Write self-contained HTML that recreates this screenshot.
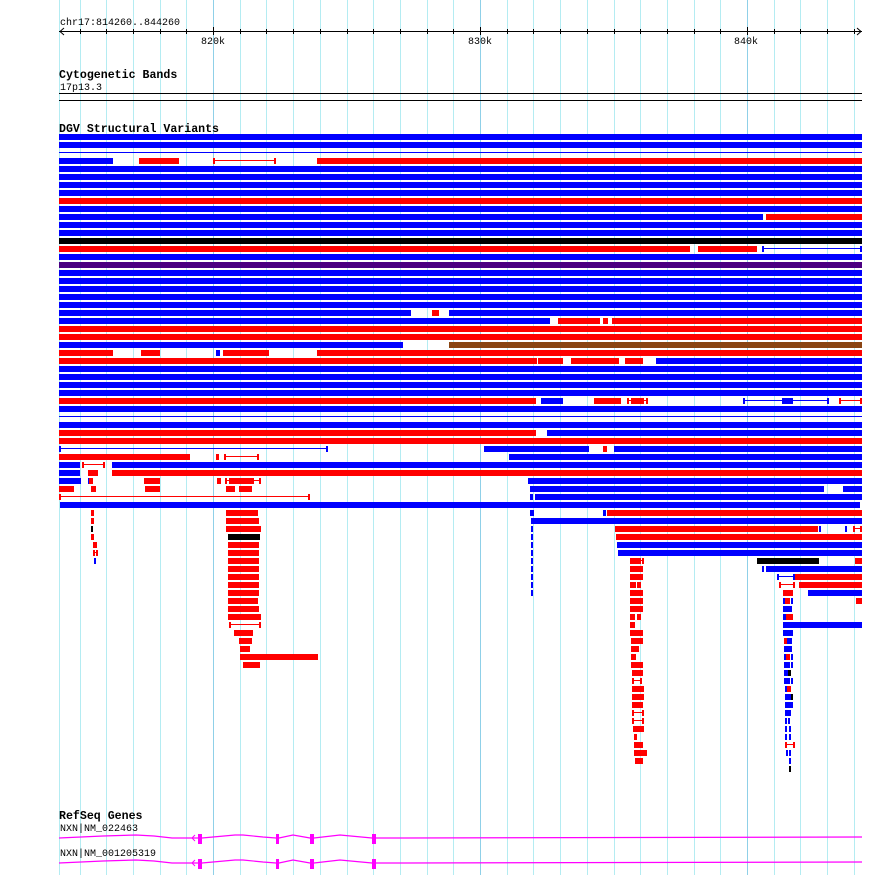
<!DOCTYPE html>
<html><head><meta charset="utf-8"><style>
html,body{margin:0;padding:0;background:#fff;}
svg{display:block;}
text{font-family:"Liberation Mono",monospace;font-size:10px;fill:#000;}
.b{font-weight:bold;font-size:11.6px;}
</style></head><body>
<svg id="s" width="890" height="875" xmlns="http://www.w3.org/2000/svg" shape-rendering="crispEdges">
<g id="grid"></g>
<text x="60" y="25">chr17:814260..844260</text>
<line x1="59" y1="31.5" x2="862" y2="31.5" stroke="#000"/>
<polyline points="64,28 60,31.5 64,35" fill="none" stroke="#000" shape-rendering="auto"/>
<polyline points="857,28 861,31.5 857,35" fill="none" stroke="#000" shape-rendering="auto"/>
<g id="ticks"></g>
<text x="201" y="44">820k</text>
<text x="468" y="44">830k</text>
<text x="734" y="44">840k</text>
<text class="b" x="59" y="78">Cytogenetic Bands</text>
<text x="60" y="90">17p13.3</text>
<rect x="59" y="93" width="803" height="1" fill="#000"/>
<rect x="59" y="100" width="803" height="1" fill="#000"/>
<text class="b" x="59" y="132">DGV Structural Variants</text>
<g id="bars"></g>
<text class="b" x="59" y="819">RefSeq Genes</text>
<text x="60" y="831">NXN|NM_022463</text>
<text x="60" y="856">NXN|NM_001205319</text>
<g id="genes"></g>
</svg>
<script>
var NS="http://www.w3.org/2000/svg";
function el(p,t,a){var e=document.createElementNS(NS,t);for(var k in a)e.setAttribute(k,a[k]);document.getElementById(p).appendChild(e);return e;}
for(var i=-5;i<=24;i++){var x=Math.round(213+i*26.7);if(x<60)continue;
 var maj=(i%10==0);
 el("grid","rect",{x:x,y:0,width:1,height:875,fill:maj?"#8fd0e8":"#b4ecf2"});
 el("ticks","rect",{x:x,y:maj?27:29,width:1,height:maj?8:5,fill:"#000"});}
el("grid","rect",{x:59,y:0,width:1,height:875,fill:"#b4ecf2"});
var B='#0000ff',R='#ff0000',K='#000000',P='#4b0082',N='#8b4513';
function bar(y,x1,x2,c){el("bars","rect",{x:x1,y:y,width:Math.max(1,x2-x1),height:6,fill:c});}
function ln(y,x1,x2,c){el("bars","rect",{x:x1,y:y+2,width:x2-x1,height:1,fill:c});el("bars","rect",{x:x1,y:y,width:2,height:6,fill:c});el("bars","rect",{x:x2-2,y:y,width:2,height:6,fill:c});}
var D={
134:[[B,59,862]],142:[[B,59,862]],
158:[[B,59,113],[R,139,179],['l',R,213,276],[R,317,862]],
166:[[B,59,862]],174:[[B,59,862]],182:[[B,59,862]],190:[[B,59,862]],198:[[R,59,862]],206:[[B,59,862]],
214:[[B,59,763],[R,766,862]],222:[[B,59,862]],230:[[B,59,862]],238:[[K,59,862]],
246:[[R,59,690],[R,698,757],['l',B,762,862]],254:[[B,59,862]],262:[[P,59,862]],
270:[[B,59,862]],278:[[B,59,862]],286:[[B,59,862]],294:[[B,59,862]],302:[[B,59,862]],
310:[[B,59,411],[R,432,439],[B,449,862]],
318:[[B,59,550],[R,558,600],[R,603,608],[R,612,862]],
326:[[R,59,862]],334:[[R,59,862]],
342:[[B,59,403],[N,449,862]],
350:[[R,59,113],[R,141,160],[B,216,220],[R,223,269],[R,317,862]],
358:[[R,59,537],[R,538,563],[R,571,619],[R,625,643],[B,656,862]],
366:[[B,59,862]],374:[[B,59,862]],382:[[B,59,862]],390:[[B,59,862]],
398:[[R,59,536],[B,541,563],[R,594,621],['l',R,627,648],[R,631,644],['l',B,743,829],[B,782,793],['l',R,839,862]],
406:[[B,59,862]],422:[[B,59,862]],
430:[[R,59,536],[B,547,862]],438:[[R,59,862]],
446:[['l',B,59,328],[B,484,589],[R,603,607],[B,614,862]],
454:[[R,59,190],[R,216,219],['l',R,224,259],[B,509,862]],
462:[[B,59,80],['l',R,82,105],[B,112,862]],
470:[[B,59,80],[R,88,98],[R,112,862]],
478:[[B,59,81],[B,88,89],[R,89,93],[R,144,160],[R,217,221],['l',R,225,261],[R,229,254],[B,528,862]],
486:[[R,59,74],[R,91,96],[R,145,160],[R,226,235],[R,239,252],[B,530,824],[B,843,862]],
494:[['l',R,59,310],[B,530,533],[B,535,862]],
502:[[B,60,860]],
510:[[R,91,94],[R,226,258],[B,530,534],[B,603,606],[R,607,862]],
518:[[R,91,94],[R,226,259],[B,531,862]],
526:[[K,91,93],[R,226,261],[B,531,533],[R,615,818],[B,819,821],[B,845,847],['l',R,853,862]],
534:[[R,91,94],[K,228,260],[B,531,533],[R,616,862]],
542:[[R,93,97],[R,228,259],[B,531,533],[B,617,862]],
550:[['l',R,93,98],[R,228,259],[B,531,533],[B,618,862]],
558:[[B,94,96],[R,228,259],[B,531,533],['l',R,630,644],[R,630,641],[K,757,819],[R,855,862]],
566:[[R,228,259],[B,531,533],[R,630,643],[B,762,764],[B,766,862]],
574:[[R,228,259],[B,531,533],[R,630,643],['l',B,777,795],[R,795,862]],
582:[[R,228,259],[B,531,533],[R,630,636],[R,637,641],['l',R,779,795],[R,799,862]],
590:[[R,228,259],[B,531,533],[R,630,643],[R,783,793],[B,808,862]],
598:[[R,228,258],[R,630,643],[B,783,785],[R,785,790],[B,791,793],[R,856,862]],
606:[[R,228,259],[R,630,643],[B,783,792]],
614:[[R,228,261],[R,630,635],[R,637,641],[B,783,786],[R,786,793]],
622:[['l',R,229,261],[R,630,635],[B,783,862]],
630:[[R,234,253],[R,630,643],[B,783,793]],
638:[[R,239,252],[R,631,643],[R,784,787],[B,787,792]],
646:[[R,240,250],[R,631,639],[B,784,792]],
654:[[R,240,318],[R,631,636],[B,784,786],[R,786,790],[B,791,793]],
662:[[R,243,260],[R,631,643],[B,784,790],[B,791,793]],
670:[[R,632,643],[B,784,788],[K,788,791]],
678:[['l',R,632,642],[B,784,790],[B,791,793]],
686:[[R,632,644],[B,785,787],[R,787,791]],
694:[[R,632,644],[B,785,791],[K,791,793]],
702:[[R,632,643],[B,785,793]],
710:[['l',R,632,644],[B,785,791]],
718:[['l',R,632,644],[B,785,787],[B,788,790]],
726:[[R,633,644],[B,785,787],[B,789,791]],
734:[[R,634,637],[B,785,787],[B,789,791]],
742:[[R,634,643],['l',R,785,795]],
750:[[R,634,647],[B,786,788],[B,789,791]],
758:[[R,635,643],[B,789,791]],
766:[[K,789,791]]
};
for(var y in D){D[y].forEach(function(s){if(s[0]=='l')ln(+y,s[2],s[3],s[1]);else bar(+y,s[1],s[2],s[0]);});}
el("bars","rect",{x:59,y:152,width:803,height:1,fill:B});
el("bars","rect",{x:59,y:416,width:803,height:1,fill:B});
function gene(y){
 var M='#ff00ff';
 var pts=[[59,y],[103,y-2],[136,y-3],[154,y-2],[172,y],[198,y],[202,y],[235,y-3],[243,y-3],[263,y-1],[276,y],[279,y],[293,y-3],[310,y],[314,y],[340,y-3],[372,y],[376,y],[405,y],[862,y-1]];
 el("genes","polyline",{points:pts.map(function(p){return p.join(',')}).join(' '),fill:'none',stroke:M,'stroke-width':1.2,'shape-rendering':'auto'});
 el("genes","polyline",{points:(195)+','+(y-3)+' 192,'+y+' 195,'+(y+3),fill:'none',stroke:M,'shape-rendering':'auto'});
 [[198,202],[276,279],[310,314],[372,376]].forEach(function(e){el("genes","rect",{x:e[0],y:y-4,width:e[1]-e[0],height:10,fill:M});});
}
gene(838);gene(863);
</script>
</body></html>
